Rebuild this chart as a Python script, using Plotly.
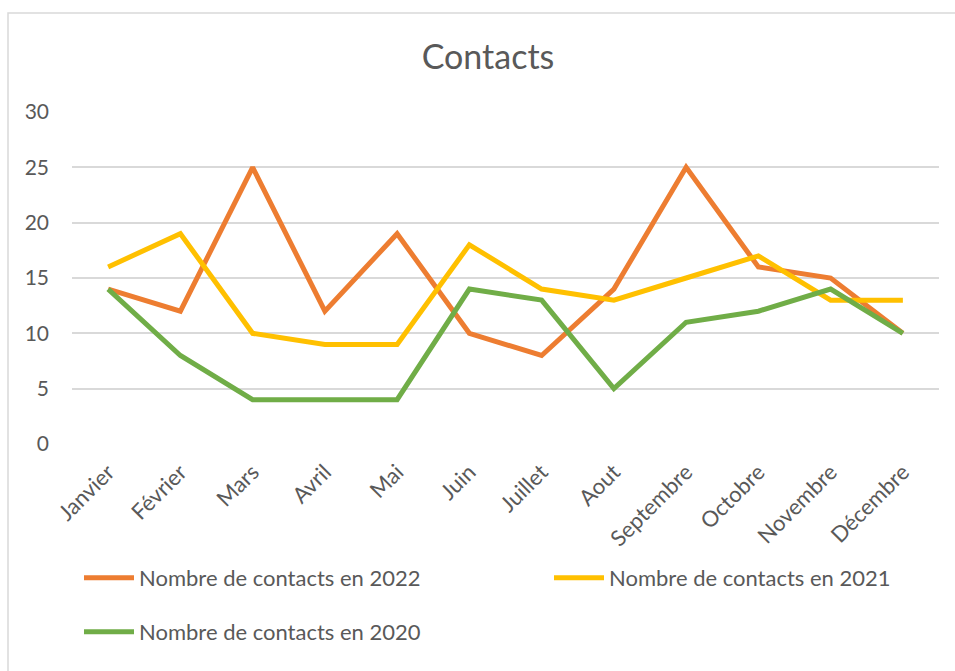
import plotly.graph_objects as go

months = ["Janvier", "Février", "Mars", "Avril", "Mai", "Juin", "Juillet",
          "Aout", "Septembre", "Octobre", "Novembre", "Décembre"]
contacts_2022 = [14, 12, 25, 12, 19, 10, 8, 14, 25, 16, 15, 10]
contacts_2021 = [16, 19, 10, 9, 9, 18, 14, 13, 15, 17, 13, 13]
contacts_2020 = [14, 8, 4, 4, 4, 14, 13, 5, 11, 12, 14, 10]
y_ticks = [0, 5, 10, 15, 20, 25, 30]

W, H = 955, 671
L, R, T, B = 72, 16, 112, 227
FONT = "Lato"
GRAY = "#595959"

fig = go.Figure()
series = [
    ("Nombre de contacts en 2022", contacts_2022, "#ED7D31", "legend"),
    ("Nombre de contacts en 2021", contacts_2021, "#FFC000", "legend2"),
    ("Nombre de contacts en 2020", contacts_2020, "#70AD47", "legend3"),
]
for name, vals, color, lg in series:
    fig.add_trace(go.Scatter(x=months, y=vals, mode="lines", name=name,
                             line=dict(color=color, width=5),
                             legend=lg))

pw = W - L - R
ph = H - T - B
def px_x(x):
    return (x - L) / pw
def px_y(y):
    return (H - B - y) / ph

fig.add_shape(type="rect", xref="paper", yref="paper",
              x0=px_x(8), x1=px_x(975), y0=px_y(690), y1=px_y(13),
              line=dict(color="#d9d9d9", width=1.5), fillcolor="rgba(0,0,0,0)",
              layer="below")

def leg(x, y):
    return dict(orientation="h", xref="container", yref="container",
                x=x / W, y=1 - y / H, xanchor="left", yanchor="middle",
                font=dict(size=22, color=GRAY, family=FONT), itemwidth=50,
                bgcolor="rgba(0,0,0,0)")

fig.update_layout(
    width=W, height=H,
    margin=dict(l=L, r=R, t=T, b=B, autoexpand=False),
    paper_bgcolor="white", plot_bgcolor="white",
    font=dict(family=FONT, color=GRAY, size=20),
    title=dict(text="Contacts", x=488 / W, xref="container", xanchor="center",
               y=1 - 57 / H, yref="container", yanchor="middle",
               font=dict(size=34, color=GRAY, family=FONT)),
    xaxis=dict(range=[-0.5, 11.5], tickangle=-45, showgrid=False,
               showline=False, zeroline=False, ticks="",
               ticklabelstandoff=10,
               tickfont=dict(size=22, color=GRAY)),
    yaxis=dict(range=[0, 30], tickvals=y_ticks, showgrid=True,
               gridcolor="#d9d9d9", gridwidth=1.5, zeroline=False,
               showline=False, ticks="", ticklabelstandoff=22,
               tickfont=dict(size=21, color=GRAY)),
    legend=leg(79, 578),
    legend2=leg(549, 578),
    legend3=leg(79, 632),
    showlegend=True,
)

fig.write_html("out.html",
               config={"displayModeBar": False},
               post_script="document.body.style.margin='0';"
                           "document.body.style.overflow='hidden';")
